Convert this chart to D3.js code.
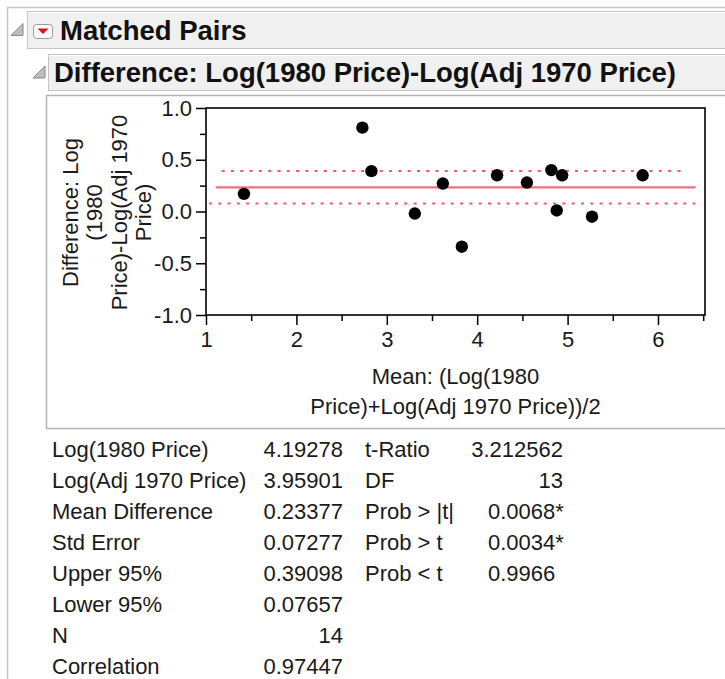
<!DOCTYPE html>
<html>
<head>
<meta charset="utf-8">
<script src="https://cdn.jsdelivr.net/npm/d3@7"></script>
<style>
  body { margin: 0; background: #fff; }
  svg { display: block; font-family: "Liberation Sans", Arial, sans-serif; }
  .hdr { font-weight: bold; font-size: 27.5px; fill: #111; }
  .axis text, .lbl, .stat { font-size: 22px; fill: #1a1a1a; }
  .axis line { stroke: #000; stroke-width: 1.5; }
</style>
</head>
<body>
<svg width="725" height="679"></svg>
<script>
// pair means / differences (13 visible dots, N = 14)
let meanVals = [1.42, 2.73, 2.83, 3.31, 3.62, 3.83, 4.22, 4.55, 4.82, 4.88, 4.94, 5.27, 5.83];
let diffVals = [0.17, 0.81, 0.39, -0.02, 0.27, -0.34, 0.35, 0.28, 0.40, 0.01, 0.35, -0.05, 0.35];

let xTicks = [1, 2, 3, 4, 5, 6];
let xMinor = [1.5, 2.5, 3.5, 4.5, 5.5, 6.5];
let yTicks = [-1, -0.5, 0, 0.5, 1];
let yMinor = [-0.75, -0.25, 0.25, 0.75];

// mean difference + 95% CI, and the x span each line covers
let refNames = ["mean", "upper", "lower"];
let refValues = [0.23377, 0.39098, 0.07657];
let refSpans = [[1.107, 6.416], [1.173, 6.276], [1.033, 6.486]];

let yLabel = ["Difference: Log", "(1980", "Price)-Log(Adj 1970", "Price)"];
let xLabel = ["Mean: (Log(1980", "Price)+Log(Adj 1970 Price))/2"];

let statLabels = ["Log(1980 Price)", "Log(Adj 1970 Price)", "Mean Difference", "Std Error",
  "Upper 95%", "Lower 95%", "N", "Correlation"];
let statValues = ["4.19278", "3.95901", "0.23377", "0.07277", "0.39098", "0.07657", "14", "0.97447"];
let testLabels = ["t-Ratio", "DF", "Prob > |t|", "Prob > t", "Prob < t"];
let testValues = ["3.212562", "13", "0.0068*", "0.0034*", "0.9966"];

let svg = d3.select("svg");

// outer report frame
svg.append("path")
  .attr("d", "M7.5,679V7.5H725")
  .attr("fill", "none")
  .attr("stroke", "#c8c8c8")
  .attr("stroke-width", 1.5);

// outline headers
let headers = [
  { text: "Matched Pairs", x: 27, y: 11, h: 37, tx: 60, tri: 10, btn: true },
  { text: "Difference: Log(1980 Price)-Log(Adj 1970 Price)", x: 48, y: 54, h: 36, tx: 54, tri: 32, btn: false },
];
headers.forEach((d) => {
  svg.append("rect")
    .attr("x", d.x + 0.5).attr("y", d.y + 0.5)
    .attr("width", 725 - d.x).attr("height", d.h)
    .attr("fill", "#f0f0f0")
    .attr("stroke", "#c4c4c4");
  svg.append("line")
    .attr("x1", d.x + 1.5).attr("x2", 725)
    .attr("y1", d.y + 1.5).attr("y2", d.y + 1.5)
    .attr("stroke", "#fff");
  let cy = d.y + d.h / 2 + 6;
  svg.append("path")
    .attr("d", `M${d.tri + 13},${cy - 12}V${cy}H${d.tri + 1}Z`)
    .attr("fill", "#bdbdbd")
    .attr("stroke", "#8a8a8a")
    .attr("stroke-linejoin", "round");
  if (d.btn) {
    svg.append("rect")
      .attr("x", 33.5).attr("y", 24.5)
      .attr("width", 19).attr("height", 14).attr("rx", 3)
      .attr("fill", "#fafafa")
      .attr("stroke", "#9a9a9a");
    svg.append("path")
      .attr("d", "M37.5,28.5H48.5L43,34Z")
      .attr("fill", "#d8141c");
  }
  svg.append("text")
    .attr("class", "hdr")
    .attr("x", d.tx)
    .attr("y", d.y + d.h / 2 + 10)
    .text(d.text);
});

// graph box
svg.append("rect")
  .attr("x", 46.5).attr("y", 95.5)
  .attr("width", 690).attr("height", 333)
  .attr("fill", "#fff")
  .attr("stroke", "#b4b4b4")
  .attr("stroke-width", 1.5);

let x = d3.scaleLinear().domain([1, 6.52]).range([206, 705]);
let y = d3.scaleLinear().domain([-1, 1]).range([315, 108]);

let gx = svg.append("g").attr("class", "axis").attr("transform", `translate(0,${y(-1)})`);
gx.call(d3.axisBottom(x).tickValues(xTicks).tickSize(10).tickPadding(6).tickFormat((d) => d));
svg.append("g").attr("class", "axis").attr("transform", `translate(0,${y(-1)})`)
  .call(d3.axisBottom(x).tickValues(xMinor).tickSize(6).tickFormat(""));

let gy = svg.append("g").attr("class", "axis").attr("transform", `translate(${x(1)},0)`);
gy.call(d3.axisLeft(y).tickValues(yTicks).tickSize(10).tickPadding(4).tickFormat((d) => d.toFixed(1)));
svg.append("g").attr("class", "axis").attr("transform", `translate(${x(1)},0)`)
  .call(d3.axisLeft(y).tickValues(yMinor).tickSize(6).tickFormat(""));

svg.selectAll(".axis .domain").remove();
svg.selectAll(".axis text").attr("font-family", null).attr("font-size", null).attr("fill", "#1a1a1a");

// plot frame
svg.append("rect")
  .attr("x", x(1)).attr("y", y(1))
  .attr("width", x(6.52) - x(1)).attr("height", y(-1) - y(1))
  .attr("fill", "none")
  .attr("stroke", "#000")
  .attr("stroke-width", 1.6);

// reference lines
svg.append("g")
  .selectAll("line")
  .data(refValues)
  .join("line")
  .attr("x1", (d, i) => x(refSpans[i][0]))
  .attr("x2", (d, i) => x(refSpans[i][1]))
  .attr("y1", (d) => y(d))
  .attr("y2", (d) => y(d))
  .attr("stroke", (d, i) => (refNames[i] == "mean" ? "#f2707c" : "#f25a68"))
  .attr("stroke-width", (d, i) => (refNames[i] == "mean" ? 2.2 : 2))
  .attr("stroke-dasharray", (d, i) => (refNames[i] == "mean" ? null : "3,6.3"));

// points
svg.append("g")
  .selectAll("circle")
  .data(meanVals)
  .join("circle")
  .attr("cx", (d) => x(d))
  .attr("cy", (d, i) => y(diffVals[i]))
  .attr("r", 6.2)
  .attr("fill", "#000");

// axis titles
yLabel.forEach((t, i) => {
  svg.append("text")
    .attr("class", "lbl")
    .attr("text-anchor", "middle")
    .attr("transform", `translate(${77.5 + i * 24.5},212.5) rotate(-90)`)
    .text(t);
});
xLabel.forEach((t, i) => {
  svg.append("text")
    .attr("class", "lbl")
    .attr("text-anchor", "middle")
    .attr("x", (x(1) + x(6.52)) / 2)
    .attr("y", 384 + i * 30)
    .text(t);
});

// summary table
let rowY = (i) => 457 + i * 31;
statLabels.forEach((t, i) => {
  svg.append("text").attr("class", "stat").attr("x", 52).attr("y", rowY(i)).text(t);
  svg.append("text").attr("class", "stat").attr("x", 343).attr("y", rowY(i))
    .attr("text-anchor", "end").text(statValues[i]);
});
testLabels.forEach((t, i) => {
  svg.append("text").attr("class", "stat").attr("x", 365).attr("y", rowY(i)).text(t);
  let v = svg.append("text").attr("class", "stat").attr("y", rowY(i)).text(testValues[i]);
  if (i < 2) v.attr("x", 563).attr("text-anchor", "end");
  else v.attr("x", 488);
});
</script>
</body>
</html>
